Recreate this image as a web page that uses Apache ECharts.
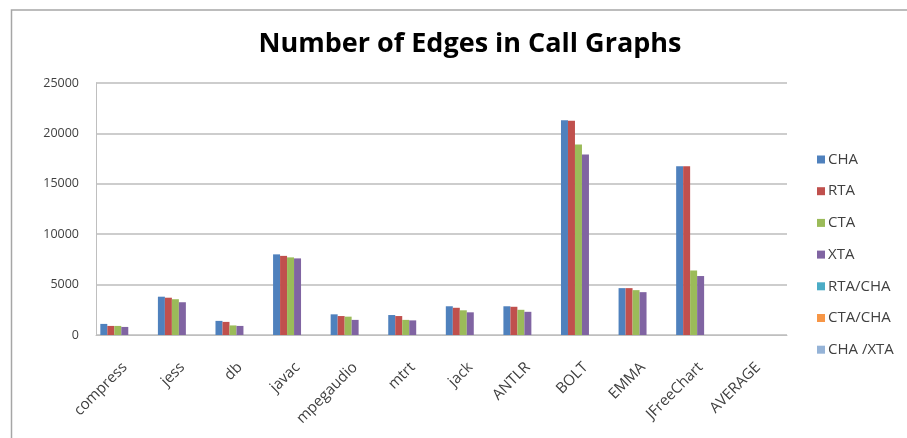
<!DOCTYPE html>
<html>
<head>
<meta charset="utf-8">
<script src="https://cdn.jsdelivr.net/npm/echarts@6/dist/echarts.min.js"></script>
<style>
  html, body { margin: 0; padding: 0; background: #fff; }
  #chart { width: 907px; height: 438px; }
</style>
</head>
<body>
<div id="chart"></div>
<script>
// Benchmarks on the x axis
const programs = ["compress", "jess", "db", "javac", "mpegaudio", "mtrt", "jack",
  "ANTLR", "BOLT", "EMMA", "JFreeChart", "AVERAGE"];

// Edge counts (AVERAGE has no bars)
const cha = [1100, 3800, 1400, 8000, 2050, 1980, 2850, 2850, 21300, 4650, 16750, null];
const rta = [900, 3700, 1300, 7850, 1880, 1880, 2700, 2800, 21250, 4650, 16750, null];
const cta = [900, 3550, 950, 7700, 1820, 1500, 2450, 2500, 18900, 4450, 6400, null];
const xta = [800, 3250, 900, 7600, 1500, 1450, 2250, 2300, 17900, 4250, 5850, null];
// Ratio series are in the legend but draw nothing on this scale
const rtaCha = programs.map(() => null);
const ctaCha = programs.map(() => null);
const chaXta = programs.map(() => null);

const seriesNames = ["CHA", "RTA", "CTA", "XTA", "RTA/CHA", "CTA/CHA", "CHA /XTA"];
const seriesData = [cha, rta, cta, xta, rtaCha, ctaCha, chaXta];
const colors = ["#4F81BD", "#C0504D", "#9BBB59", "#8064A2", "#4BACC6", "#F79646", "#95B3D7"];

const font = "Open Sans, Liberation Sans, sans-serif";

const chart = echarts.init(document.getElementById("chart"));

const option = {
  animation: false,
  color: colors,
  title: {
    text: "Number of Edges in Call Graphs",
    left: 465,
    textAlign: "center",
    top: 26,
    textStyle: { fontFamily: font, fontSize: 27, fontWeight: "bold", color: "#000" },
  },
  legend: {
    orient: "vertical",
    left: 812,
    top: 147,
    itemWidth: 8,
    itemHeight: 8,
    itemGap: 16.7,
    icon: "rect",
    data: seriesNames,
    textStyle: { fontFamily: font, fontSize: 15, color: "#404040", padding: [0, 0, 0, -2] },
  },
  grid: { left: 96, right: 120, top: 83, bottom: 103 },
  xAxis: {
    type: "category",
    data: programs,
    axisLine: { lineStyle: { color: "#bfbfbf" } },
    axisTick: { show: false },
    axisLabel: {
      rotate: 45,
      interval: 0,
      margin: 30,
      fontFamily: font,
      fontSize: 15,
      color: "#404040",
    },
  },
  yAxis: {
    type: "value",
    min: 0,
    max: 25000,
    interval: 5000,
    axisLine: { show: true, lineStyle: { color: "#bfbfbf" } },
    axisTick: { show: false },
    axisLabel: {
      fontFamily: font,
      fontSize: 12.5,
      color: "#404040",
      margin: 17,
      formatter: (value) => String(value),
    },
    splitLine: { lineStyle: { color: "#bdbdbd", width: 1.5 } },
  },
  series: seriesNames.map((name, i) => ({
    name: name,
    type: "bar",
    data: seriesData[i],
    barGap: "0%",
    barCategoryGap: "15%",
  })),
  graphic: [{
    type: "rect",
    shape: { x: 11.5, y: 10, width: 920, height: 440 },
    style: { fill: "none", stroke: "#a6a6a6", lineWidth: 1.5 },
    silent: true,
  }],
};

chart.setOption(option);
</script>
</body>
</html>
